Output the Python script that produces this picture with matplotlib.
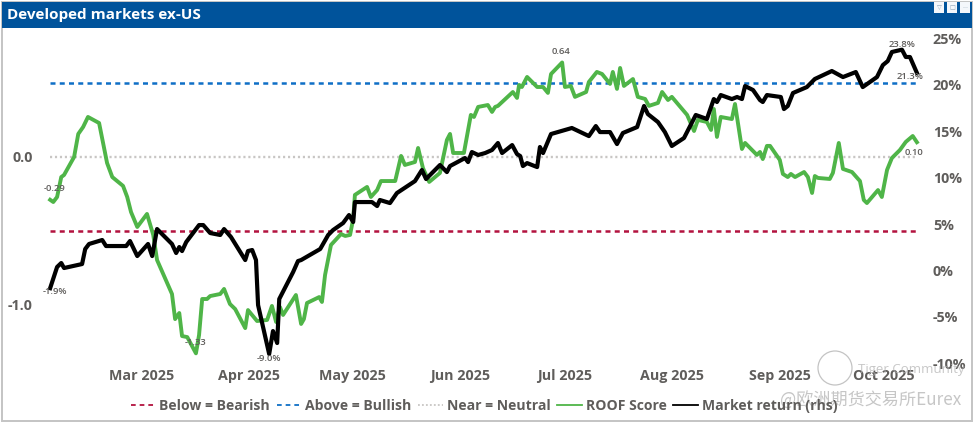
import matplotlib
matplotlib.use('Agg')
import matplotlib.pyplot as plt
import pandas as pd
from matplotlib.lines import Line2D
from matplotlib.patches import Rectangle, Circle

# ============================================================
# Data (day = day of year 2025)
# ============================================================
roof_day = [33.8, 34.7, 35.8, 37.0, 37.8, 40.7, 41.9, 43.3, 44.7, 47.9, 50.2, 51.7, 54.8, 56.0, 57.1, 58.9,
            61.7, 63.5, 64.6, 68.9, 69.8, 71.0, 71.8, 73.3, 75.8, 76.7, 77.6, 79.0, 79.9, 82.8, 83.9, 85.6,
            87.1, 90.0, 90.8, 93.4, 96.3, 97.7, 98.9, 100.0, 100.9, 104.6, 106.1, 106.9, 107.8, 111.3, 112.1, 113.0,
            114.7, 117.6, 118.8, 120.2, 121.1, 121.6, 125.1, 126.2, 128.0, 129.1, 133.2, 134.9, 136.0, 138.9, 139.8, 141.2,
            143.0, 146.1, 148.1, 149.0, 149.9, 153.0, 155.0, 155.9, 157.1, 159.9, 161.1, 162.0, 162.8, 167.1, 168.3, 168.9,
            169.7, 171.2, 174.1, 175.8, 177.2, 178.1, 181.3, 182.1, 183.8, 185.0, 188.2, 189.0, 191.3, 192.8, 195.1, 195.9,
            197.1, 198.0, 199.1, 201.7, 203.1, 205.2, 206.3, 208.9, 210.1, 211.8, 212.9, 217.3, 219.3, 220.4, 223.0, 224.2,
            225.0, 225.9, 227.0, 230.2, 231.1, 233.1, 234.0, 237.4, 238.3, 239.1, 240.3, 241.2, 244.0, 244.9, 246.3, 247.2,
            248.4, 251.0, 252.1, 253.3, 254.1, 255.0, 258.4, 259.3, 261.0, 262.2, 264.8, 267.1, 268.2, 269.1, 272.3, 273.4,
            274.9, 276.3, 278.6, 280.3, 282.3, 283.5]
roof_score = [-0.29, -0.305, -0.271, -0.136, -0.122, 0.0, 0.156, 0.203, 0.271, 0.230, -0.041, -0.136, -0.196, -0.271, -0.373, -0.474,
              -0.386, -0.528, -0.698, -0.928, -1.098, -1.057, -1.213, -1.220, -1.33, -1.206, -0.962, -0.962, -0.942, -0.928, -0.894, -0.996,
              -1.030, -1.159, -1.037, -1.111, -1.104, -1.009, -1.118, -1.016, -1.070, -0.935, -1.131, -1.098, -0.989, -0.949, -0.982, -0.799,
              -0.596, -0.522, -0.535, -0.528, -0.420, -0.257, -0.203, -0.271, -0.224, -0.163, -0.163, 0.007, -0.054, -0.034, 0.061, -0.075,
              -0.169, -0.108, 0.115, 0.156, 0.027, 0.027, 0.285, 0.271, 0.339, 0.352, 0.305, 0.339, 0.346, 0.440, 0.400, 0.488,
              0.474, 0.542, 0.474, 0.474, 0.434, 0.562, 0.64, 0.474, 0.481, 0.407, 0.440, 0.508, 0.576, 0.562, 0.495, 0.576,
              0.461, 0.603, 0.481, 0.528, 0.407, 0.393, 0.346, 0.366, 0.440, 0.386, 0.407, 0.285, 0.176, 0.251, 0.237, 0.183,
              0.325, 0.136, 0.271, 0.257, 0.359, 0.054, 0.095, 0.014, 0.034, -0.014, 0.075, 0.075, -0.020, -0.115, -0.136, -0.115,
              -0.136, -0.102, -0.136, -0.244, -0.129, -0.142, -0.149, -0.108, 0.095, -0.081, -0.102, -0.163, -0.291, -0.312, -0.224, -0.271,
              -0.088, -0.007, 0.047, 0.102, 0.142, 0.10]

mkt_day = [33.8, 35.8, 37.0, 37.8, 43.0, 43.9, 45.0, 48.8, 49.9, 55.7, 56.8, 58.9, 62.0, 63.2, 64.6, 68.9,
           70.1, 71.0, 71.8, 73.0, 76.7, 77.9, 79.9, 82.8, 83.9, 85.9, 90.0, 90.8, 92.0, 93.1, 93.7, 96.9,
           98.0, 99.2, 99.8, 103.8, 105.2, 106.1, 111.6, 113.9, 115.3, 118.2, 119.9, 121.1, 121.6, 126.5, 128.0, 128.8,
           131.7, 133.7, 138.9, 140.9, 142.1, 146.1, 148.1, 149.0, 153.3, 154.2, 155.3, 157.1, 159.1, 161.1, 162.8, 164.0,
           166.9, 168.3, 169.2, 170.0, 171.2, 174.1, 174.9, 175.8, 178.1, 184.1, 189.0, 191.0, 192.2, 195.1, 197.1, 198.8,
           202.9, 204.9, 206.0, 208.9, 210.9, 212.9, 216.4, 219.8, 223.0, 225.0, 225.9, 227.0, 230.2, 231.7, 233.1, 234.0,
           236.3, 238.3, 239.1, 240.3, 244.3, 245.2, 246.3, 247.8, 251.8, 254.1, 259.0, 262.2, 265.9, 267.9, 272.0, 273.7,
           275.1, 276.3, 279.2, 280.3, 281.5, 283.5]
mkt_return = [-1.9, 0.38, 0.81, 0.27, 0.70, 2.32, 2.86, 3.29, 2.64, 2.64, 3.18, 1.56, 2.86, 1.56, 4.47, 2.86,
              1.89, 2.53, 2.10, 3.07, 4.90, 4.90, 4.04, 3.83, 4.47, 3.61, 1.13, 2.10, 2.21, 1.13, -3.72, -9.0,
              -6.52, -7.81, -3.07, -0.16, 1.02, 1.13, 2.32, 3.83, 4.36, 5.12, 5.98, 5.23, 7.38, 7.38, 6.95, 7.60,
              7.27, 8.35, 9.64, 10.83, 9.86, 11.37, 10.61, 11.26, 12.12, 11.69, 12.77, 12.45, 12.66, 12.99, 13.74, 12.66,
              13.52, 12.55, 12.34, 11.26, 11.58, 11.15, 13.31, 12.66, 14.71, 15.36, 14.49, 15.57, 14.92, 14.92, 13.63, 14.82,
              15.46, 17.73, 16.86, 16.00, 14.92, 13.42, 14.28, 16.76, 16.33, 18.48, 18.16, 18.91, 18.48, 18.70, 18.48, 19.88,
              19.45, 18.37, 18.16, 18.91, 18.70, 17.40, 17.73, 19.13, 19.77, 20.64, 21.50, 20.85, 21.39, 19.77, 20.85, 22.14,
              22.57, 23.55, 23.8, 23.01, 23.01, 21.3]

level_bearish = -0.5
level_bullish = 0.5
level_neutral = 0.0

month_ticks = ['2025-03-01', '2025-04-01', '2025-05-01', '2025-06-01',
               '2025-07-01', '2025-08-01', '2025-09-01', '2025-10-01']
month_labels = ['Mar 2025', 'Apr 2025', 'May 2025', 'Jun 2025',
                'Jul 2025', 'Aug 2025', 'Sep 2025', 'Oct 2025']
roof_ticks = [0.0, -1.0]
roof_tick_labels = ['0.0', '-1.0']
mkt_ticks = [25, 20, 15, 10, 5, 0, -5, -10]
mkt_tick_labels = ['25%', '20%', '15%', '10%', '5%', '0%', '-5%', '-10%']

# ============================================================
# Style
# ============================================================
W, H = 975, 423
GRAY = '#5f5d5b'
GREEN = '#4fb548'
RED = '#b3123f'
BLUE = '#0f6fc6'
DOTS = '#c8c6c4'
FONT = 'Open Sans'
plt.rcParams['font.family'] = [FONT, 'Noto Sans CJK SC', 'DejaVu Sans']


def to_dates(days):
    return pd.Timestamp('2024-12-31') + pd.to_timedelta(days, unit='D')


def px_box(x0, y0, x1, y1):
    """pixel box (top-left origin) -> figure fraction [l, b, w, h]"""
    return [x0 / W, 1 - y1 / H, (x1 - x0) / W, (y1 - y0) / H]


def fig_rect(fig, x0, y0, x1, y1, **kw):
    l, b, w, h = px_box(x0, y0, x1, y1)
    fig.add_artist(Rectangle((l, b), w, h, transform=fig.transFigure, zorder=-5, **kw))


def fig_text(fig, x, y, s, **kw):
    fig.text(x / W, 1 - y / H, s, **kw)


# ============================================================
# Figure
# ============================================================
fig = plt.figure(figsize=(W / 100, H / 100), dpi=100, facecolor='white')

# panel frame and title bar
fig_rect(fig, 1.5, 2, 972, 421, facecolor='white', edgecolor='#c4c4c4', linewidth=1.4)
fig_rect(fig, 2, 2, 972, 28, facecolor='#00539b', edgecolor='none')
fig_text(fig, 7, 15, 'Developed markets ex-US', color='white', fontsize=11,
         fontweight='bold', va='center', ha='left')
for x0, glyph in zip([934, 947, 960], ['▽', '□', '···']):
    fig_rect(fig, x0, 2.5, x0 + 10, 13, facecolor='#f4f7fb', edgecolor='none')
    fig_text(fig, x0 + 5, 7.5, glyph, color='#8aa0b5', fontsize=4.5, ha='center', va='center',
             family='DejaVu Sans')

ax = fig.add_axes(px_box(38, 30, 928, 365))
ax2 = ax.twinx()
ax.patch.set_alpha(0)
ax2.patch.set_alpha(0)
for a in (ax, ax2):
    for sp in a.spines.values():
        sp.set_visible(False)

line_start, line_end = to_dates(roof_day[0]), to_dates(roof_day[-1])
ax.plot([line_start, line_end], [level_bearish] * 2, color=RED, lw=1.8, dashes=(2.0, 1.7))
ax.plot([line_start, line_end], [level_bullish] * 2, color=BLUE, lw=1.8, dashes=(2.0, 1.7))
ax.plot([line_start, line_end], [level_neutral] * 2, color=DOTS, lw=1.7, dashes=(0.9, 1.2))
ax.plot(to_dates(roof_day), roof_score, color=GREEN, lw=2.8, solid_joinstyle='round')
ax2.plot(to_dates(mkt_day), mkt_return, color='black', lw=3.0, solid_joinstyle='round')

# axis limits worked out from where the ticks sit
ax.set_xlim(to_dates(30.3), to_dates(286.7))
ax.set_ylim(-1.409, 0.860)
ax2.set_ylim(-10.18, 25.92)

ax.set_xticks(pd.to_datetime(month_ticks))
ax.set_xticklabels(month_labels)
ax.set_yticks(roof_ticks)
ax.set_yticklabels(roof_tick_labels)
ax2.set_yticks(mkt_ticks)
ax2.set_yticklabels(mkt_tick_labels)
ax.tick_params(axis='x', length=0, pad=3, labelsize=10.3, labelcolor=GRAY)
ax.tick_params(axis='y', length=0, pad=4, labelsize=10.3, labelcolor=GRAY)
ax2.tick_params(axis='y', length=0, pad=3.5, labelsize=10.3, labelcolor=GRAY)
for lab in ax.get_xticklabels() + ax.get_yticklabels() + ax2.get_yticklabels():
    lab.set_fontweight('bold')


# ============================================================
# Data labels
# ============================================================
def label_point(a, day, value, text, dx, dy):
    a.annotate(text, xy=(to_dates(day), value), xytext=(dx, dy), textcoords='offset pixels',
               ha='center', va='center', fontsize=6.8, color=GRAY, fontweight='semibold')


label_point(ax, roof_day[0], roof_score[0], '-0.29', 4, 11)
label_point(ax, 181.3, 0.64, '0.64', -1, 11)
label_point(ax, 75.8, -1.33, '-1.33', 0, 11)
label_point(ax, roof_day[-1], roof_score[-1], '0.10', -3, -10)
label_point(ax2, mkt_day[0], mkt_return[0], '-1.9%', 5, -3)
label_point(ax2, 96.9, -9.0, '-9.0%', 0, -4)
label_point(ax2, 279.2, 23.8, '23.8%', 0, 5)
label_point(ax2, mkt_day[-1], mkt_return[-1], '21.3%', -7, -4)

# ============================================================
# Legend
# ============================================================
handles = [
    Line2D([], [], color=RED, lw=1.3, dashes=(2.6, 2.2)),
    Line2D([], [], color=BLUE, lw=1.3, dashes=(2.6, 2.2)),
    Line2D([], [], color=DOTS, lw=1.3, dashes=(1, 1.2)),
    Line2D([], [], color=GREEN, lw=1.3),
    Line2D([], [], color='black', lw=1.3),
]
labels = ['Below = Bearish', 'Above = Bullish', 'Near = Neutral', 'ROOF Score', 'Market return (rhs)']
fig.legend(handles, labels, loc='center', bbox_to_anchor=(484 / W, 1 - 405.5 / H), ncol=5, frameon=False,
           handlelength=1.75, handletextpad=0.3, columnspacing=0.46,
           prop={'family': FONT, 'weight': 'bold', 'size': 10.1}, labelcolor=GRAY, borderpad=0)

# ============================================================
# Watermark
# ============================================================
fig.add_artist(Circle((835 / 100, (H - 368) / 100), 17 / 100,
                      transform=fig.dpi_scale_trans, facecolor='none', edgecolor='#b5b5b5', lw=0.9, alpha=0.8))
fig_text(fig, 858, 369, 'Tiger Community', color='#b0b0b0', alpha=0.7, fontsize=9.5, va='center', ha='left')
fig_text(fig, 780, 401, '@欧洲期货交易所Eurex', color='#a8a8a8', alpha=0.65, fontsize=12.3, va='center', ha='left',
         family=['Noto Sans CJK SC', 'DejaVu Sans'])

fig.savefig('out.png', dpi=100)
plt.close(fig)
